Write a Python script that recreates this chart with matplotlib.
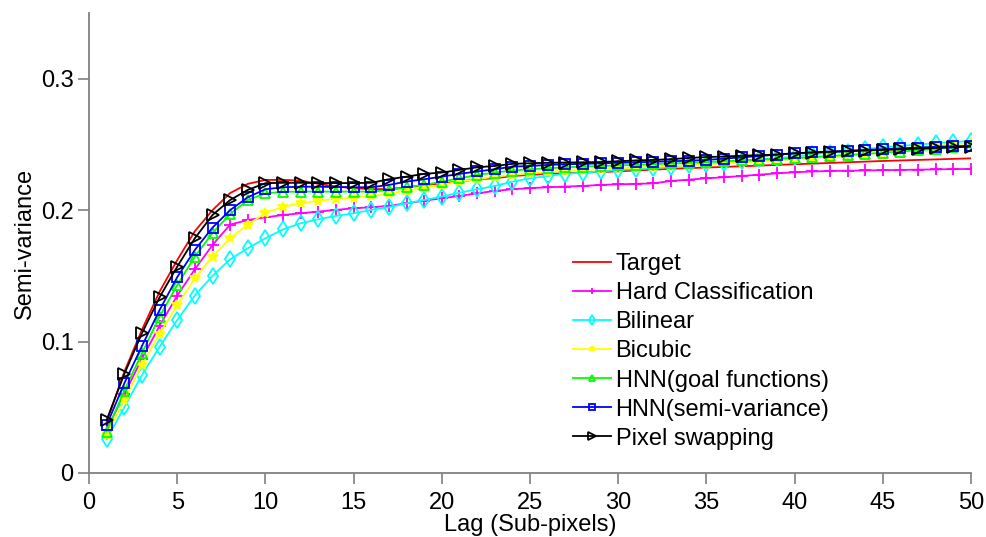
import numpy as np
import matplotlib
matplotlib.use("Agg")
import matplotlib.pyplot as plt

plt.rcParams['font.family'] = ['Liberation Sans', 'DejaVu Sans']

lags = np.arange(1, 51)

target = [0.039, 0.077, 0.109, 0.138, 0.162, 0.184, 0.200, 0.213, 0.220, 0.223,
          0.223, 0.2225, 0.220, 0.218, 0.2167, 0.216, 0.216, 0.2174, 0.219, 0.2204,
          0.2217, 0.2235, 0.2242, 0.226, 0.2268, 0.2276, 0.2281, 0.2286, 0.229, 0.2295,
          0.2302, 0.2308, 0.2314, 0.232, 0.2324, 0.2329, 0.2334, 0.2339, 0.2344, 0.2349,
          0.2354, 0.2359, 0.2364, 0.2369, 0.2374, 0.2378, 0.2382, 0.2386, 0.239, 0.2394]

hard = [0.033, 0.060, 0.087, 0.112, 0.135, 0.155, 0.1735, 0.189, 0.1925, 0.1945,
        0.1963, 0.1976, 0.1989, 0.2002, 0.2014, 0.2022, 0.2032, 0.2052, 0.2072, 0.209,
        0.2108, 0.2128, 0.2146, 0.2159, 0.2167, 0.2174, 0.2179, 0.2184, 0.2192, 0.2196,
        0.220, 0.2204, 0.2222, 0.2232, 0.2242, 0.225, 0.226, 0.227, 0.228, 0.2288,
        0.2294, 0.2298, 0.230, 0.2302, 0.2304, 0.2306, 0.2308, 0.231, 0.2312, 0.2313]

bilinear = [0.0256, 0.050, 0.0746, 0.0961, 0.1164, 0.1350, 0.150, 0.1626, 0.171, 0.1786,
            0.1854, 0.190, 0.1931, 0.1956, 0.1976, 0.2002, 0.2022, 0.2052, 0.2077, 0.2103,
            0.2133, 0.2159, 0.2184, 0.2217, 0.2242, 0.226, 0.2276, 0.2286, 0.2294, 0.2306,
            0.2312, 0.2319, 0.2331, 0.2344, 0.2353, 0.2362, 0.2377, 0.2386, 0.2395, 0.2408,
            0.2425, 0.2438, 0.2446, 0.2463, 0.2478, 0.2489, 0.2499, 0.2509, 0.2518, 0.2526]

bicubic = [0.029, 0.0556, 0.0822, 0.1058, 0.1279, 0.148, 0.1647, 0.1786, 0.189, 0.1978,
           0.2025, 0.2052, 0.2072, 0.2085, 0.2096, 0.2108, 0.2124, 0.2149, 0.2167, 0.2192,
           0.2217, 0.2235, 0.2255, 0.2268, 0.2281, 0.229, 0.2298, 0.2305, 0.2312, 0.2318,
           0.2324, 0.233, 0.2336, 0.2342, 0.2349, 0.2356, 0.2364, 0.2372, 0.238, 0.2389,
           0.2398, 0.2408, 0.2418, 0.2428, 0.2438, 0.2458, 0.2475, 0.249, 0.250, 0.251]

hnn_goal = [0.0315, 0.0626, 0.0911, 0.119, 0.143, 0.1647, 0.1826, 0.197, 0.2077, 0.2128,
            0.2139, 0.2141, 0.2141, 0.2141, 0.2141, 0.2141, 0.2153, 0.2174, 0.2192, 0.2217,
            0.2242, 0.2268, 0.2286, 0.2301, 0.2311, 0.2318, 0.2326, 0.2331, 0.2336, 0.234,
            0.2345, 0.235, 0.2355, 0.236, 0.2366, 0.2372, 0.2378, 0.2384, 0.239, 0.2396,
            0.2404, 0.2412, 0.242, 0.2428, 0.2436, 0.2446, 0.2456, 0.2466, 0.2478, 0.249]

hnn_semi = [0.0365, 0.0682, 0.0966, 0.124, 0.149, 0.1697, 0.1867, 0.200, 0.2098, 0.2159,
            0.2174, 0.2178, 0.2178, 0.2176, 0.2174, 0.2174, 0.2192, 0.2217, 0.2235, 0.2255,
            0.2276, 0.2294, 0.2311, 0.2331, 0.2336, 0.2344, 0.2349, 0.2352, 0.2356, 0.236,
            0.2364, 0.2368, 0.2372, 0.2376, 0.2382, 0.2392, 0.2402, 0.2412, 0.2422, 0.2432,
            0.244, 0.2446, 0.2452, 0.2458, 0.2464, 0.247, 0.2476, 0.2482, 0.2486, 0.249]

pixel_swap = [0.0403, 0.0753, 0.1063, 0.1337, 0.157, 0.1786, 0.1963, 0.2077, 0.2154, 0.2205,
              0.2208, 0.2208, 0.2206, 0.2206, 0.2206, 0.2208, 0.2235, 0.2255, 0.2276, 0.2286,
              0.2306, 0.2326, 0.2336, 0.2352, 0.2357, 0.236, 0.2362, 0.2364, 0.2366, 0.2372,
              0.2378, 0.2382, 0.2388, 0.2397, 0.2404, 0.2408, 0.2414, 0.2418, 0.2423, 0.2433,
              0.2438, 0.2443, 0.2448, 0.2453, 0.2458, 0.2463, 0.2468, 0.2473, 0.2478, 0.2483]

names = ["Target", "Hard Classification", "Bilinear", "Bicubic",
         "HNN(goal functions)", "HNN(semi-variance)", "Pixel swapping"]
series = [target, hard, bilinear, bicubic, hnn_goal, hnn_semi, pixel_swap]
colors = ["#ff0000", "#ff00ff", "#00ffff", "#ffff00", "#00ff00", "#0000ff", "#000000"]
markers = [None, "+", "d", "*", "^", "s", ">"]
sizes = [0, 8, 8, 7, 7, 7, 9]

fig = plt.figure(figsize=(9.87, 5.37), dpi=100)
ax = fig.add_axes([0.0902, 0.1192, 0.8936, 0.8566])

for vals, name, c, m, ms in zip(series, names, colors, markers, sizes):
    if m is None:
        ax.plot(lags, vals, color=c, lw=1.3, label=name)
    elif m in ("+", "*"):
        ax.plot(lags, vals, color=c, lw=1.3, marker=m, ms=ms, mew=1.3, label=name)
    else:
        ax.plot(lags, vals, color=c, lw=1.3, marker=m, ms=ms, mew=1.3,
                mfc="none", mec=c, label=name)

ax.set_xlim(0, 50)
ax.set_ylim(0, 0.35)
ax.set_xticks(np.arange(0, 51, 5))
ax.set_yticks([0, 0.1, 0.2, 0.3])
ax.set_yticklabels(["0", "0.1", "0.2", "0.3"])

for s in ["top", "right"]:
    ax.spines[s].set_visible(False)
for s in ["left", "bottom"]:
    ax.spines[s].set_color("#808080")
    ax.spines[s].set_linewidth(1.3)
ax.tick_params(direction="out", length=8, width=1.2, color="#808080",
               labelsize=17, pad=3)
ax.tick_params(axis="x", pad=6)

ax.set_xlabel("Lag (Sub-pixels)", fontsize=17, labelpad=0)
ax.set_ylabel("Semi-variance", fontsize=17, labelpad=4)

ax.legend(loc="upper left", bbox_to_anchor=(0.571, 0.546), bbox_transform=fig.transFigure,
          frameon=False, fontsize=17, handlelength=1.6, handletextpad=0.2,
          labelspacing=0.30, markerscale=0.6, numpoints=1, borderaxespad=0)

fig.savefig("out.png", dpi=100)
